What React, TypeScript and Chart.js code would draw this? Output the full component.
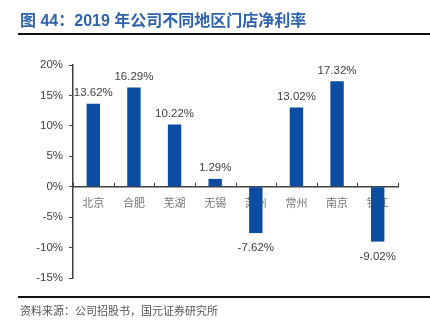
import React, { useEffect, useRef } from "react";
import { Chart, registerables } from "chart.js";

Chart.register(...registerables);

const categories = ["北京", "合肥", "芜湖", "无锡", "苏州", "常州", "南京", "镇江"];
const netMargin = [13.62, 16.29, 10.22, 1.29, -7.62, 13.02, 17.32, -9.02];
const titleText = "图 44：2019 年公司不同地区门店净利率";
const sourceText = "资料来源：公司招股书，国元证券研究所";

const BAR = "#0C4DA2";
const TEXT = "#404040";

const decorPlugin = {
  id: "decor",
  afterDraw(chart: any) {
    const ctx = chart.ctx;
    ctx.save();
    // title
    ctx.fillStyle = "#2F64AC";
    ctx.font = "bold 16px 'Liberation Sans', 'Noto Sans CJK SC', sans-serif";
    ctx.textBaseline = "middle";
    ctx.textAlign = "left";
    ctx.fillText(titleText, 20, 22);
    // lines
    ctx.fillStyle = "#111";
    ctx.fillRect(18, 33, 412, 2);
    ctx.fillRect(18, 296, 412, 2);
    // source
    ctx.fillStyle = "#555";
    ctx.font = "11px 'Noto Sans CJK SC', sans-serif";
    ctx.fillText(sourceText, 20, 311);
    // x ticks (upward)
    const x = chart.scales.x;
    const y = chart.scales.y;
    const y0 = y.getPixelForValue(0);
    const n = categories.length;
    const w = (x.right - x.left) / n;
    ctx.strokeStyle = "#404040";
    ctx.lineWidth = 1;
    for (let i = 0; i <= n; i++) {
      const px = Math.round(x.left + i * w) + 0.5;
      ctx.beginPath();
      ctx.moveTo(px, y0);
      ctx.lineTo(px, y0 - 4);
      ctx.stroke();
    }
    ctx.restore();
  },
  afterDatasetsDraw(chart: any) {
    const ctx = chart.ctx;
    const meta = chart.getDatasetMeta(0);
    ctx.save();
    ctx.fillStyle = TEXT;
    ctx.font = "11.5px 'Liberation Sans', sans-serif";
    ctx.textAlign = "center";
    meta.data.forEach((bar: any, i: number) => {
      const v = netMargin[i];
      const label = v.toFixed(2) + "%";
      if (v >= 0) {
        ctx.textBaseline = "bottom";
        ctx.fillText(label, bar.x, bar.y - 5);
      } else {
        ctx.textBaseline = "top";
        ctx.fillText(label, bar.x, bar.y + 9);
      }
    });
    ctx.restore();
  },
};

export default function App() {
  const ref = useRef<HTMLCanvasElement>(null);
  useEffect(() => {
    if (!ref.current) return;
    const chart = new Chart(ref.current, {
      type: "bar",
      data: {
        labels: categories,
        datasets: [
          {
            data: netMargin,
            backgroundColor: BAR,
            barPercentage: 0.66,
            categoryPercentage: 0.5,
          },
        ],
      },
      options: {
        animation: false,
        responsive: false,
        layout: { padding: { left: 0, right: 32, top: 65, bottom: 44 } },
        plugins: { legend: { display: false }, tooltip: { enabled: false } },
        scales: {
          x: {
            position: { y: 0 },
            grid: { display: true, drawOnChartArea: false, drawTicks: false },
            border: { color: "#404040", width: 1.5 },
            ticks: {
              color: "#777",
              padding: 9,
              font: { size: 11, family: "'Noto Sans CJK SC', sans-serif" },
            },
          },
          y: {
            min: -15,
            max: 20,
            afterFit: (s: any) => {
              s.width = 73;
            },
            grid: { display: true, drawOnChartArea: false, drawTicks: true, tickLength: 4, color: "#404040" },
            border: { color: "#404040", width: 1.5 },
            ticks: {
              stepSize: 5,
              color: TEXT,
              padding: 6,
              font: { size: 11.5, family: "'Liberation Sans', sans-serif" },
              callback: (v: any) => v + "%",
            },
          },
        },
      },
      plugins: [decorPlugin],
    });
    return () => chart.destroy();
  }, []);
  return (
    <div style={{ position: "absolute", left: 0, top: 0, width: 430, height: 322, background: "#fff" }}>
      <canvas ref={ref} width={430} height={322} style={{ width: 430, height: 322 }} />
    </div>
  );
}
